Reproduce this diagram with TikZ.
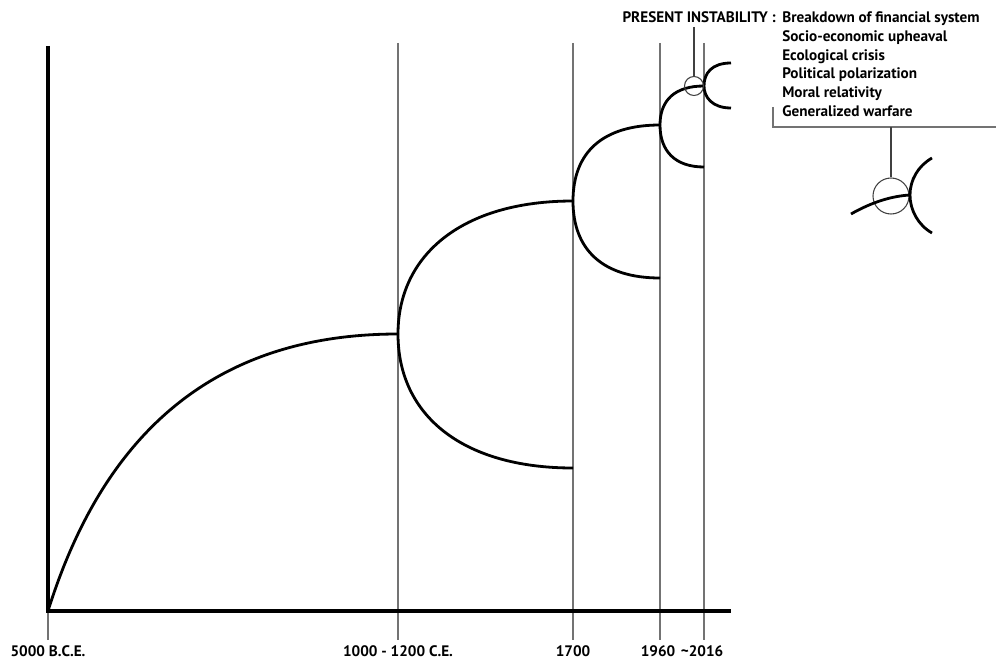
\documentclass[tikz,border=0pt]{standalone}
\usepackage{fontspec}
\setmainfont{PT Sans}
\begin{document}
\begin{tikzpicture}[x=0.75pt,y=-0.75pt,
  thinline/.style={draw=black!55,line width=0.8pt},
  thick curve/.style={draw=black,line width=2.1pt},
  axisline/.style={draw=black,line width=2.4pt},
  lbl/.style={font=\fontsize{11.4pt}{14pt}\selectfont\bfseries,inner sep=0pt},
  mag/.style={draw=black!75,line width=0.8pt}]
\useasboundingbox (0,0) rectangle (996,660);
% coordinates
\coordinate (o) at (48,611);
\coordinate (ytop) at (48,46);
\coordinate (xend) at (731,611);
\coordinate (b1) at (398,334);
\coordinate (b2) at (573,201);
\coordinate (l2) at (573,468);
\coordinate (b3) at (660,125);
\coordinate (l3) at (660,278);
\coordinate (b4) at (704,86);
\coordinate (l4) at (704,167);
\coordinate (u5) at (731,63);
\coordinate (l5) at (731,108);
% thin vertical lines
\foreach \x/\n in {48/a,398/b,573/c,660/d,704/e}{
  \coordinate (t\n) at (\x,43);
  \coordinate (s\n) at (\x,640);
}
\draw[thinline] (o) -- (sa);
\draw[thinline] (tb) -- (sb);
\draw[thinline] (tc) -- (sc);
\draw[thinline] (td) -- (sd);
\draw[thinline] (te) -- (se);
% axes
\draw[axisline] (ytop) -- (o) -- (xend);
% curves
\draw[thick curve] (o) .. controls (108,419) and (228,334) .. (b1);
\draw[thick curve] (b1) .. controls (398,255) and (462,201) .. (b2);
\draw[thick curve] (b1) .. controls (398,415) and (462,468) .. (l2);
\draw[thick curve] (b2) .. controls (573,152) and (603,125) .. (b3);
\draw[thick curve] (b2) .. controls (573,250) and (603,278) .. (l3);
\draw[thick curve] (b3) .. controls (660,100) and (675,86) .. (b4);
\draw[thick curve] (b3) .. controls (660,151) and (675,167) .. (l4);
\draw[thick curve] (u5) .. controls (712,63) and (704,73) .. (b4);
\draw[thick curve] (b4) .. controls (704,97) and (712,108) .. (l5);
% small magnifier circle
\node[mag,circle,minimum size=19pt*0.75,inner sep=0pt] (c1) at (694,86) {};
\coordinate (c1top) at (694,27);
\draw[mag] (c1top) -- (c1.north);
% labels
\node[lbl,anchor=base east] (pi) at (776,22.5) {PRESENT INSTABILITY :};
\node[lbl,anchor=base west] (i1) at (782,22.5) {Breakdown of financial system};
\node[lbl,anchor=base west] (i2) at (782,41.3) {Socio-economic upheaval};
\node[lbl,anchor=base west] (i3) at (782,60.1) {Ecological crisis};
\node[lbl,anchor=base west] (i4) at (782,78.9) {Political polarization};
\node[lbl,anchor=base west] (i5) at (782,97.7) {Moral relativity};
\node[lbl,anchor=base west] (i6) at (782,116.5) {Generalized warfare};
% bracket
\coordinate (br1) at (773,107);
\coordinate (br2) at (773,127);
\coordinate (br3) at (996,127);
\coordinate (brm) at (891,127);
\draw[thinline] (br1) -- (br2) -- (br3);
% enlarged view
\node[mag,circle,minimum size=36pt*0.75,inner sep=0pt] (c2) at (891,196) {};
\draw[mag] (brm) -- (c2.north);
\coordinate (e0) at (851,214);
\coordinate (eb) at (910,195);
\coordinate (eu) at (932,158);
\coordinate (el) at (932,233);
\draw[thick curve] (e0) .. controls (872,202) and (892,196) .. (eb);
\draw[thick curve] (eu) .. controls (918,166) and (910,180) .. (eb);
\draw[thick curve] (eb) .. controls (910,210) and (918,225) .. (el);
% axis labels
\node[lbl,anchor=base] (x1) at (48,656.5) {5000 B.C.E.};
\node[lbl,anchor=base] (x2) at (398,656.5) {1000 - 1200 C.E.};
\node[lbl,anchor=base] (x3) at (573,656.5) {1700};
\node[lbl,anchor=base] (x4) at (658,656.5) {1960};
\node[lbl,anchor=base] (x5) at (702,656.5) {\char`\~2016};
\end{tikzpicture}
\end{document}
